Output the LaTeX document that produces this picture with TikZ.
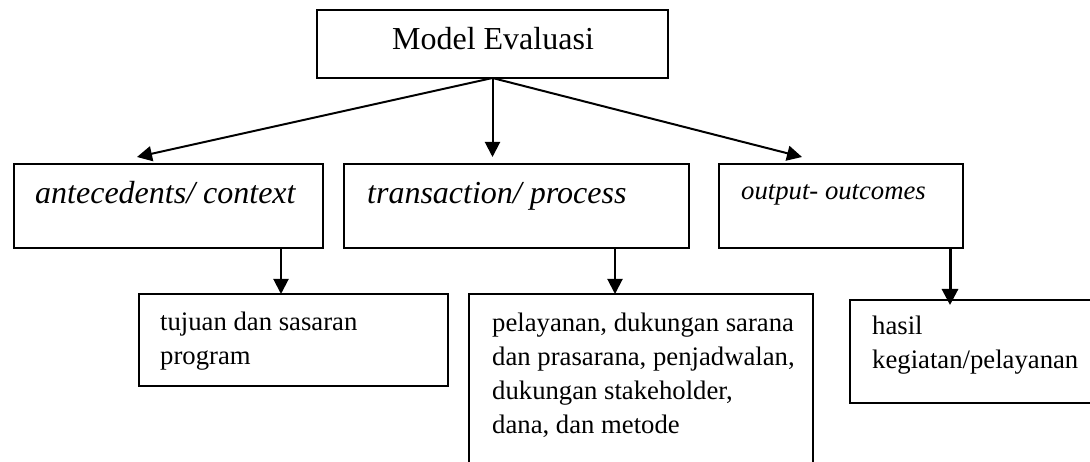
\documentclass[tikz,border=0pt]{standalone}
\usepackage{fontspec}
\setmainfont{Liberation Serif}
\usetikzlibrary{arrows.meta}
\begin{document}
\begin{tikzpicture}[x=1pt,y=-1pt,
  box/.style={draw=black, line width=2pt, rectangle, inner sep=0pt, outer sep=0pt, anchor=north west},
  bigtext/.style={inner sep=0pt, font=\fontsize{32}{38}\selectfont},
  bigital/.style={anchor=base west, inner sep=0pt, font=\fontsize{32}{38}\selectfont\itshape},
  smallital/.style={anchor=base west, inner sep=0pt, font=\fontsize{26.7}{34}\selectfont\itshape},
  bodytext/.style={anchor=base west, inner sep=0pt, align=left, font=\fontsize{26.7}{34}\selectfont},
  arr/.style={line width=2pt, -{Triangle[length=15pt,width=15pt]}},
  thickarr/.style={line width=3pt, -{Triangle[length=16pt,width=16pt]}}]
\useasboundingbox (0,0) rectangle (1090,462);
\clip (0,0) rectangle (1090,462);
\fill[white] (0,0) rectangle (1090,462);
% boxes
\node[box, minimum width=351pt, minimum height=68pt] (top) at (317,10) {};
\node[box, minimum width=309pt, minimum height=84pt] (A) at (14,164) {};
\node[box, minimum width=345pt, minimum height=84pt] (B) at (344,164) {};
\node[box, minimum width=244pt, minimum height=84pt] (C) at (719,164) {};
\node[box, minimum width=309pt, minimum height=92pt] (D) at (139,294) {};
\node[box, minimum width=344pt, minimum height=190pt] (E) at (469,294) {};
\node[box, minimum width=260pt, minimum height=103pt] (F) at (850,300) {};
% texts (multi-line nodes are anchored at the baseline of their last line)
\node[bigtext, anchor=base] (ttop) at (493,50) {Model Evaluasi};
\node[bigital] (tA) at (35,204) {antecedents/ context};
\node[bigital] (tB) at (367,204) {transaction/ process};
\node[smallital] (tC) at (741,200) {output- outcomes};
\node[bodytext] (tD) at (160,364) {tujuan dan sasaran\\program};
\node[bodytext] (tE) at (492,433) {pelayanan, dukungan sarana\\dan prasarana, penjadwalan,\\dukungan stakeholder,\\dana, dan metode};
\node[bodytext] (tF) at (872,368) {hasil\\kegiatan/pelayanan};
% arrow ends
\coordinate (pA) at (137,157);
\coordinate (pB) at (492.5,157);
\coordinate (pC) at (802,157);
\coordinate (pD) at (281,294);
\coordinate (pE) at (615,294);
\coordinate (pF) at (950,305);
% connectors
\draw[arr] (top.south) -- (pA);
\draw[arr] (top.south) -- (pB);
\draw[arr] (top.south) -- (pC);
\draw[arr] (A.south -| pD) -- (pD);
\draw[arr] (B.south -| pE) -- (pE);
\draw[thickarr] (C.south -| pF) -- (pF);
\end{tikzpicture}
\end{document}
